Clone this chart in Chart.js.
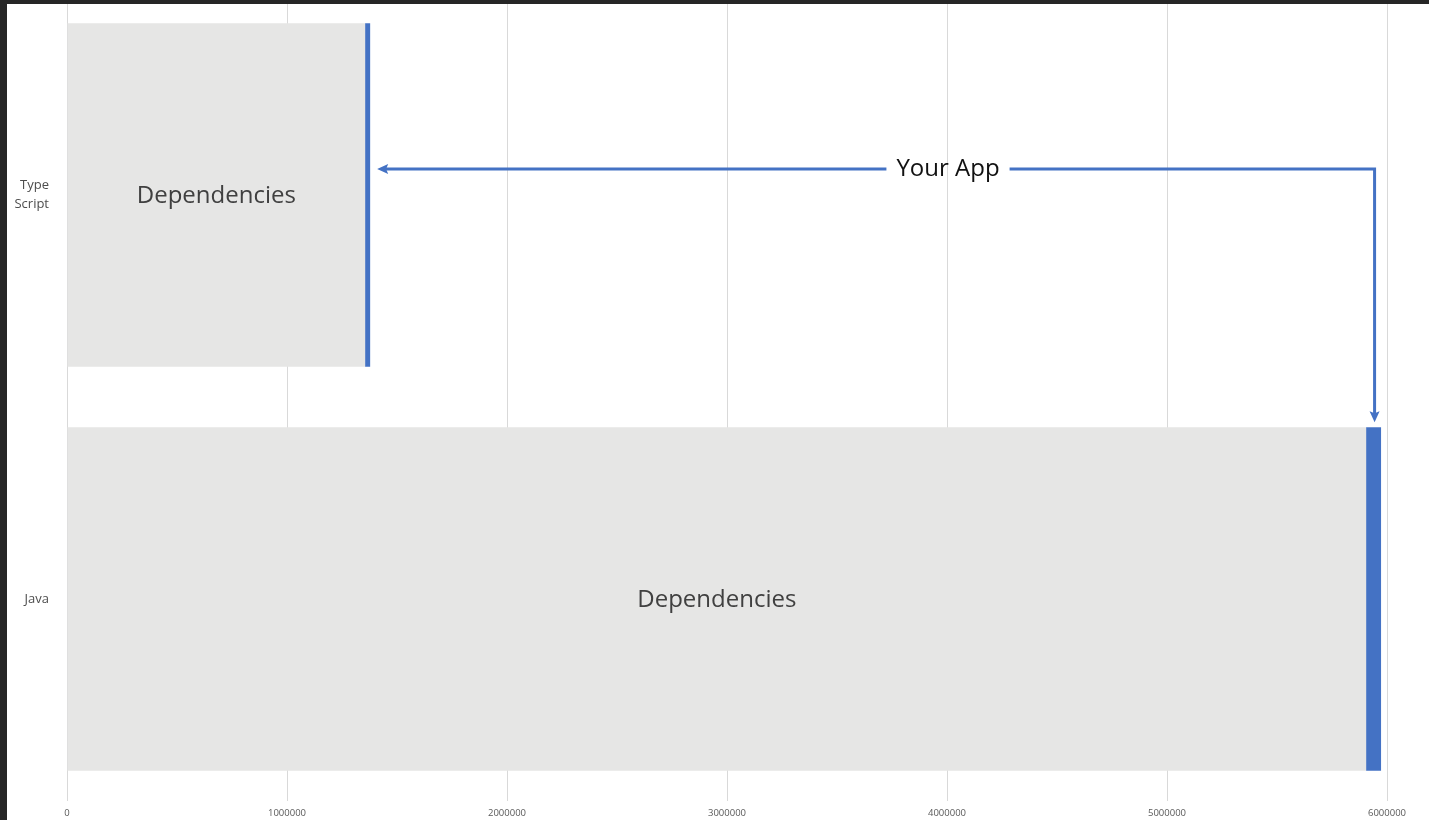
<!DOCTYPE html>
<html>
<head>
<meta charset="utf-8">
<script src="https://cdn.jsdelivr.net/npm/chart.js@4"></script>
<style>
  html, body { margin: 0; padding: 0; background: #262626; overflow: hidden; }
  #sheet { position: absolute; left: 7px; top: 4px; width: 1422px; height: 816px; background: #fff; overflow: hidden; }
  #wrap { position: absolute; left: 0; top: -11px; }
</style>
</head>
<body>
<div id="sheet">
  <div id="wrap"><canvas id="chart" width="1422" height="828"></canvas></div>
</div>
<script>
// categories and series
const categories = [['Type', 'Script'], 'Java'];
const dependencies = [1355000, 5905000];
const yourApp = [23000, 68000];
const xTicks = [0, 1000000, 2000000, 3000000, 4000000, 5000000, 6000000];
const barText = 'Dependencies';
const arrowText = 'Your App';
const arrowTextAt = 4000000; // where the arrow label sits on the x axis

const gray = '#e6e6e5';
const blue = '#4472c4';

// draws the bar texts and the "Your App" arrow
const annotate = {
  id: 'annotate',
  afterDatasetsDraw(chart) {
    const ctx = chart.ctx;
    const x = chart.scales.x;
    const deps = chart.getDatasetMeta(0).data;
    const app = chart.getDatasetMeta(1).data;

    ctx.save();
    ctx.fillStyle = '#404040';
    ctx.font = '24px "Open Sans", sans-serif';
    ctx.textAlign = 'center';
    ctx.textBaseline = 'middle';
    deps.forEach(b => {
      ctx.fillText(barText, (b.x + b.base) / 2, b.y + 1);
    });

    // arrow from the Java app sliver to the TypeScript app sliver
    const tsApp = app[0], javaApp = app[1];
    const lineY = tsApp.y - 26;
    const leftX = tsApp.x + 7;
    const cornerX = (javaApp.x + javaApp.base) / 2 + 1;
    const bottomY = javaApp.y - javaApp.height / 2 - 5;
    const textX = x.getPixelForValue(arrowTextAt);

    ctx.font = '24px "Open Sans", sans-serif';
    const tw = ctx.measureText(arrowText).width;

    ctx.strokeStyle = blue;
    ctx.fillStyle = blue;
    ctx.lineWidth = 3;
    ctx.beginPath();
    ctx.moveTo(leftX + 8, lineY);
    ctx.lineTo(textX - tw / 2 - 9, lineY);
    ctx.moveTo(textX + tw / 2 + 11, lineY);
    ctx.lineTo(cornerX, lineY);
    ctx.lineTo(cornerX, bottomY - 8);
    ctx.stroke();

    // arrow heads
    ctx.beginPath();
    ctx.moveTo(leftX, lineY);
    ctx.lineTo(leftX + 11, lineY - 5);
    ctx.lineTo(leftX + 9, lineY);
    ctx.lineTo(leftX + 11, lineY + 5);
    ctx.closePath();
    ctx.fill();
    ctx.beginPath();
    ctx.moveTo(cornerX, bottomY);
    ctx.lineTo(cornerX - 5, bottomY - 11);
    ctx.lineTo(cornerX, bottomY - 9);
    ctx.lineTo(cornerX + 5, bottomY - 11);
    ctx.closePath();
    ctx.fill();

    ctx.fillStyle = '#111';
    ctx.fillText(arrowText, textX + 1, lineY);
    ctx.restore();
  }
};

const ctx = document.getElementById('chart').getContext('2d');
const chart = new Chart(ctx, {
  type: 'bar',
  data: {
    labels: categories,
    datasets: [{
      label: 'Dependencies',
      data: dependencies,
      backgroundColor: gray,
      barPercentage: 0.85,
      categoryPercentage: 1
    }, {
      label: 'Your App',
      data: yourApp,
      backgroundColor: blue,
      barPercentage: 0.85,
      categoryPercentage: 1
    }]
  },
  options: {
    indexAxis: 'y',
    responsive: false,
    animation: false,
    layout: { padding: { left: 0, right: 42, top: 0, bottom: 0 } },
    plugins: {
      legend: { display: false },
      tooltip: { enabled: false }
    },
    scales: {
      x: {
        stacked: true,
        min: 0,
        max: 6000000,
        afterBuildTicks: s => { s.ticks = xTicks.map(v => ({ value: v })); },
        afterFit: s => { s.height = 20; s.paddingLeft = 0; s.paddingRight = 0; },
        grid: { color: '#d9d9d9', drawTicks: false },
        border: { display: false },
        ticks: {
          color: '#595959',
          font: { family: '"Open Sans", sans-serif', size: 9.5 },
          padding: 7,
          maxRotation: 0,
          callback: v => String(v)
        }
      },
      y: {
        stacked: true,
        afterFit: s => { s.width = 60; s.paddingTop = 0; s.paddingBottom = 0; },
        grid: { display: false },
        border: { display: false },
        ticks: {
          color: '#4d4d4d',
          font: { family: '"Open Sans", sans-serif', size: 13, lineHeight: 1.45 },
          padding: 10
        }
      }
    }
  },
  plugins: [annotate]
});
</script>
</body>
</html>
